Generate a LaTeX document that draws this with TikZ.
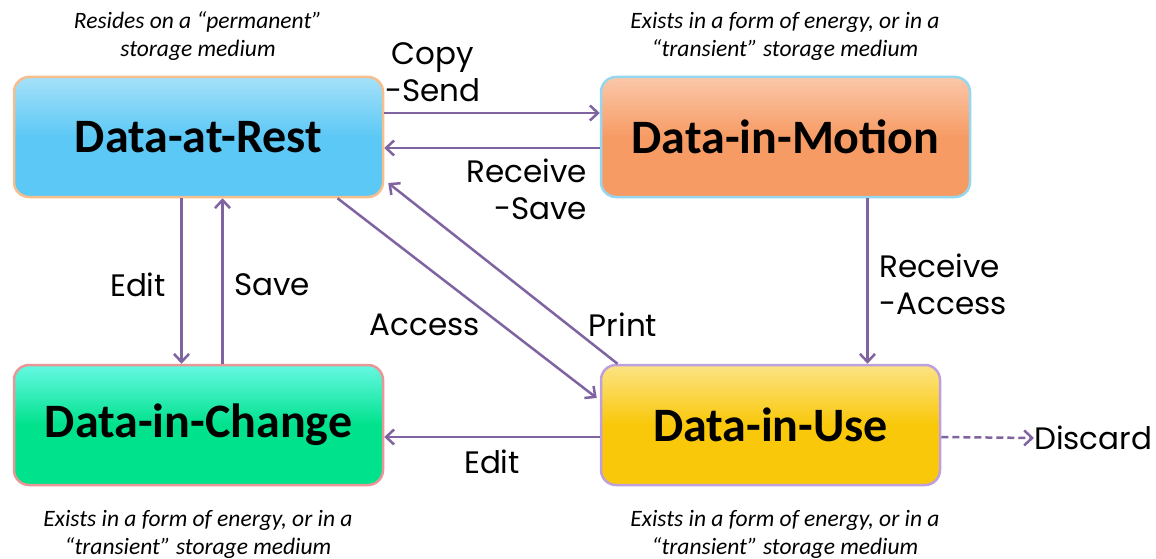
\documentclass[tikz,border=0pt]{standalone}
\usepackage{fontspec}
\setmainfont{Carlito}
\newfontfamily\lblfont{Poppins}
\usetikzlibrary{arrows.meta,calc}
\definecolor{restc}{RGB}{92,200,245}
\definecolor{restg}{RGB}{245,190,140}
\definecolor{motc}{RGB}{247,155,100}
\definecolor{motg}{RGB}{150,215,240}
\definecolor{chgc}{RGB}{0,226,140}
\definecolor{chgg}{RGB}{235,150,150}
\definecolor{usec}{RGB}{249,200,10}
\definecolor{useg}{RGB}{190,160,220}
\definecolor{arr}{RGB}{128,100,162}
\begin{document}
\begin{tikzpicture}[x=1pt,y=-1pt,
  state/.style={rectangle, rounded corners=15pt, minimum height=120pt,
    line width=2.5pt, font=\fontsize{48}{52}\selectfont\bfseries, inner sep=0pt},
  note/.style={font=\fontsize{23.5}{28}\selectfont\itshape, align=center},
  lbl/.style={font=\lblfont\fontsize{31}{37}\selectfont, inner sep=0pt},
  flow/.style={draw=arr, line width=2.5pt, -{Straight Barb[length=8pt,width=15pt,line width=2.5pt]}}]
\useasboundingbox (0,0) rectangle (1156,559);
\fill[white] (0,0) rectangle (1156,559);

\node[state, minimum width=369pt, draw=restg, top color=restc!55!white, bottom color=restc, middle color=restc] (rest) at (198.5,137) {Data-at-Rest};
\node[state, minimum width=369pt, draw=motg, top color=motc!55!white, bottom color=motc, middle color=motc] (motion) at (785.5,137) {Data-in-Motion};
\node[state, minimum width=369pt, draw=chgg, top color=chgc!40!cyan!60!white, bottom color=chgc, middle color=chgc] (change) at (198.5,425) {Data-in-Change};
\node[state, minimum width=339pt, draw=useg, top color=usec!50!white, bottom color=usec, middle color=usec] (use) at (770.5,425) {Data-in-Use};

\node[note] (n1) at (198,36) {Resides on a “permanent”\\storage medium};
\node[note] (n2) at (785,36) {Exists in a form of energy, or in a\\“transient” storage medium};
\node[note] (n3) at (198,534) {Exists in a form of energy, or in a\\“transient” storage medium};
\node[note] (n4) at (785,534) {Exists in a form of energy, or in a\\“transient” storage medium};

\draw[flow] ([yshift=24pt]rest.east) -- ([yshift=24pt]motion.west);
\draw[flow] ([yshift=-11pt]motion.west) -- ([yshift=-11pt]rest.east);
\draw[flow] ([xshift=-17pt]rest.south) -- ([xshift=-17pt]change.north);
\draw[flow] ([xshift=24pt]change.north) -- ([xshift=24pt]rest.south);
\draw[flow] ([xshift=139pt]rest.south) -- ([yshift=27pt,xshift=-3pt]use.west);
\draw[flow] ([xshift=-153pt]use.north) -- ([yshift=-46pt,xshift=4pt]rest.east);
\draw[flow] ([xshift=82pt]motion.south) -- ([xshift=82pt]motion.south |- use.north);
\draw[flow] ([yshift=-12pt]use.west) -- ([yshift=-12pt]change.east);

\node[lbl, anchor=west] (disc) at (1034,438) {Discard};
\draw[flow, dashed, dash pattern=on 7pt off 4pt] ([yshift=-12pt]use.east) -- (disc.west);

\node[lbl, align=center] (l1) at (433,72) {Copy\\-Send};
\node[lbl, align=right] (l2) at (527,189) {Receive\\-Save};
\node[lbl] (l3) at (138,285) {Edit};
\node[lbl] (l4) at (272,285) {Save};
\node[lbl] (l5) at (425,325) {Access};
\node[lbl] (l6) at (623,325) {Print};
\node[lbl, align=left] (l7) at (943,284) {Receive\\-Access};
\node[lbl] (l8) at (492,462) {Edit};
\end{tikzpicture}
\end{document}
